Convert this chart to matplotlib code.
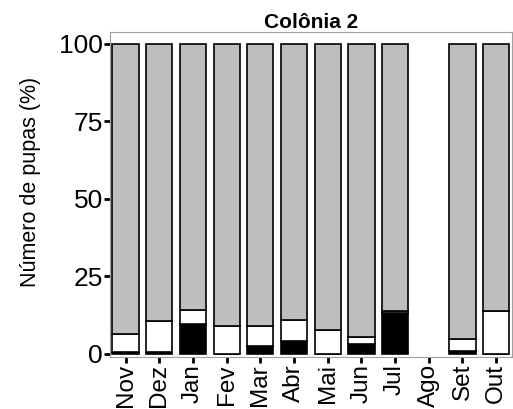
import numpy as np
import matplotlib.pyplot as plt

plt.rcParams['font.family'] = ['Liberation Sans', 'DejaVu Sans']

meses = ["Nov", "Dez", "Jan", "Fev", "Mar", "Abr", "Mai", "Jun", "Jul", "Ago", "Set", "Out"]
# percentages per stage (bottom to top); Ago has no data
preto = [0.5, 0.5, 9.5, 0.0, 2.6, 4.2, 0.0, 3.1, 13.0, 0.0, 1.0, 0.0]
branco = [6.0, 10.0, 4.7, 8.8, 6.2, 6.8, 7.7, 2.4, 0.7, 0.0, 3.6, 13.7]
tem_dados = [True, True, True, True, True, True, True, True, True, False, True, True]

x = np.arange(len(meses))
preto = np.array(preto)
branco = np.array(branco)
cinza = np.where(tem_dados, 100 - preto - branco, 0.0)

fig = plt.figure(figsize=(5.13, 4.09), dpi=100)
ax = fig.add_axes([0.214, 0.127, 0.784, 0.795])

w = 0.78
kw = dict(width=w, edgecolor="black", linewidth=1.2)
mask = np.array(tem_dados)
ax.bar(x[mask], preto[mask], color="black", **kw)
ax.bar(x[mask], branco[mask], bottom=preto[mask], color="white", **kw)
ax.bar(x[mask], cinza[mask], bottom=(preto + branco)[mask], color="#bebebe", **kw)

ax.set_xlim(-0.47, 11.47)
ax.set_ylim(-1.1, 103.9)
ax.set_xticks(x)
ax.set_xticklabels(meses, rotation=90, fontsize=17.5)
ax.set_yticks([0, 25, 50, 75, 100])
ax.set_yticklabels(["0", "25", "50", "75", "100"], fontsize=19)
ax.tick_params(length=4, width=2, color="black", pad=1)
ax.set_ylabel("Número de pupas (%)", fontsize=15.5)
ax.yaxis.set_label_coords(-0.17, 0.54)
ax.set_title("Colônia 2", fontsize=15, fontweight="bold", pad=3)
for s in ax.spines.values():
    s.set_color("#a0a0a0")
    s.set_linewidth(0.8)

fig.savefig("out.png", dpi=100)
